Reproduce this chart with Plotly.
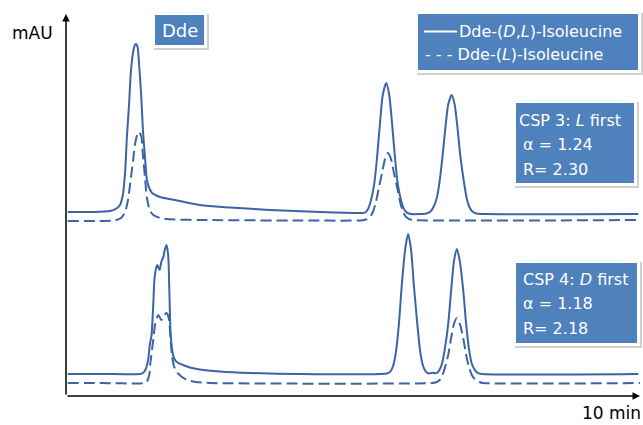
import plotly.graph_objects as go

# ---------------- data (time in min, absorbance in mAU) -------------
csp3_dl_t = [0.03, 0.42, 0.77, 0.89, 0.94, 0.99, 1.03, 1.06, 1.10, 1.13,
             1.17, 1.20, 1.22, 1.25, 1.27, 1.31, 1.34, 1.38, 1.41, 1.45,
             1.50, 1.64, 1.90, 2.33, 2.86, 3.55, 4.43, 5.12,
             5.21, 5.26, 5.31, 5.37, 5.42, 5.47, 5.52, 5.58, 5.63, 5.68,
             5.73, 5.78, 5.84, 5.89, 5.94, 6.01,
             6.28, 6.35, 6.40, 6.46, 6.51, 6.56, 6.61, 6.66, 6.72, 6.77,
             6.82, 6.87, 6.93, 6.98, 7.03, 7.08, 7.15, 7.30, 9.97]
csp3_dl_a = [184, 184, 185, 188, 191, 201, 224, 258, 293, 324,
             344, 351, 352, 348, 334, 301, 266, 236, 216, 208,
             203, 199, 196, 191, 188.5, 186, 184, 183,
             183.4, 186.8, 195.1, 212.1, 239.3, 272.8, 301.5, 313, 301.5, 272.8,
             239.3, 212.1, 195.1, 186.8, 183.4, 182,
             182.5, 184.4, 188.7, 198.1, 215.1, 239.9, 268.4, 291.8, 301, 291.8,
             268.4, 239.9, 215.1, 198.1, 188.7, 184.4, 182.5, 182, 182]

csp3_l_t = [0.03, 0.59, 0.85, 0.96, 1.03, 1.08, 1.13, 1.17, 1.20, 1.24,
            1.27, 1.31, 1.34, 1.38, 1.41, 1.46, 1.52, 1.64, 1.90, 2.33,
            4.08, 5.17,
            5.24, 5.30, 5.35, 5.40, 5.45, 5.51, 5.56, 5.61, 5.66, 5.71,
            5.77, 5.82, 5.87, 5.92, 5.98, 6.05, 10.0]
csp3_l_a = [175, 175, 175.5, 178, 184, 196, 218, 236, 251, 261,
            264, 260, 241, 216, 198, 186, 181, 178, 176.5, 176,
            175.5, 175.8,
            176.8, 179.3, 184.5, 194.1, 208.1, 224.1, 237.3, 243, 237.3, 224.1,
            208.1, 194.1, 184.5, 179.3, 176.8, 176, 176]

csp4_dl_t = [0.03, 0.59, 1.29, 1.34, 1.39, 1.43, 1.46, 1.49, 1.52, 1.54,
             1.57, 1.59, 1.63, 1.66, 1.70, 1.72, 1.75, 1.78, 1.80, 1.82,
             1.85, 1.88, 1.93, 2.04, 2.16, 2.33, 2.68, 3.21, 4.08, 5.47,
             5.59, 5.65, 5.70, 5.75, 5.80, 5.85, 5.91, 5.96, 6.01, 6.06,
             6.12, 6.17, 6.22, 6.27, 6.32, 6.38,
             6.45, 6.50, 6.55, 6.60, 6.66, 6.71, 6.76, 6.81, 6.86, 6.92,
             6.97, 7.02, 7.07, 7.13, 7.18, 7.25, 9.97]
csp4_dl_a = [22, 22, 22, 23, 27, 36, 51, 61, 91, 116,
             128, 131, 126, 134, 140, 146, 151, 141, 106, 66,
             46, 38, 34, 31, 28.5, 26.5, 24.5, 23, 22, 22,
             22.5, 24.4, 30.3, 44.8, 72.4, 111, 147, 162, 147, 111,
             72.4, 44.8, 30.3, 24.4, 22.5, 23.3,
             22.9, 25.4, 32.2, 47.1, 72.7, 105.8, 135.1, 147, 135.1, 105.8,
             72.7, 47.1, 32.2, 25.4, 22.9, 22, 22]

csp4_l_t = [0.03, 0.59, 1.38, 1.41, 1.45, 1.47, 1.52, 1.55, 1.58, 1.61,
            1.66, 1.70, 1.75, 1.79, 1.82, 1.85, 1.88, 1.93, 2.02, 2.11,
            2.25, 2.51, 6.38,
            6.45, 6.50, 6.55, 6.60, 6.66, 6.71, 6.76, 6.81, 6.86, 6.92,
            6.97, 7.02, 7.07, 7.13, 7.20, 7.27, 10.0]
csp4_l_a = [13, 13, 13, 14.3, 21, 33, 56, 71, 78, 81,
            76, 80, 83, 78, 58, 39, 30, 24, 19, 16,
            14, 13, 13,
            13.7, 15.4, 19.5, 28, 41.4, 58, 72.3, 78, 72.3, 58,
            41.4, 29, 21, 16.5, 14, 13, 13]

legend_labels = ["Dde-(<i>D</i>,<i>L</i>)-Isoleucine", "- - - Dde-(<i>L</i>)-Isoleucine"]
csp3_lines = ["CSP 3: <i>L</i> first", "α = 1.24", "R= 2.30"]
csp4_lines = ["CSP 4: <i>D</i> first", "α = 1.18", "R= 2.18"]

# ---------------- style / layout helpers ----------------
W, H = 643, 425
ML, MR, MT, MB = 66, 3, 14, 29
PW, PH = W - ML - MR, H - MT - MB
LINE = "#3b65a4"
BOX = "#4F81BD"
FONT = "DejaVu Sans"


def X(p):
    return (p - ML) / PW


def Y(p):
    return (MT + PH - p) / PH


fig = go.Figure()
for t, a, dash in [(csp3_dl_t, csp3_dl_a, "solid"), (csp3_l_t, csp3_l_a, "11px,5px"),
                   (csp4_dl_t, csp4_dl_a, "solid"), (csp4_l_t, csp4_l_a, "11px,5px")]:
    fig.add_trace(go.Scatter(x=t, y=a, mode="lines",
                             line=dict(color=LINE, width=2, dash=dash, shape="spline", smoothing=0.7),
                             hoverinfo="skip"))

shapes = []


def add_box(x0, y0, x1, y1):
    shapes.append(dict(type="rect", xref="paper", yref="paper", layer="above",
                       x0=X(x0 - 1), x1=X(x1 + 5), y0=Y(y0 - 1), y1=Y(y1 + 5),
                       fillcolor="rgba(0,0,0,0.18)", line=dict(width=0)))
    shapes.append(dict(type="rect", xref="paper", yref="paper", layer="above",
                       x0=X(x0 - 3), x1=X(x1 + 3), y0=Y(y0 - 3), y1=Y(y1 + 3),
                       fillcolor="white", line=dict(width=0)))
    shapes.append(dict(type="rect", xref="paper", yref="paper", layer="above",
                       x0=X(x0), x1=X(x1), y0=Y(y0), y1=Y(y1),
                       fillcolor=BOX, line=dict(width=0)))


add_box(155, 15, 204, 45)
add_box(418, 14, 638, 70)
add_box(516, 103, 634, 183)
add_box(516, 263, 637, 343)
shapes.append(dict(type="line", xref="paper", yref="paper", layer="above",
                   x0=X(424), x1=X(457), y0=Y(31.5), y1=Y(31.5),
                   line=dict(color="white", width=2)))

ann = []


def txt(s, x, y, size=16, color="white", anchor="left"):
    ann.append(dict(text=s, x=X(x), y=Y(y), xref="paper", yref="paper", showarrow=False,
                    xanchor=anchor, yanchor="middle", borderpad=0, borderwidth=0,
                    font=dict(family=FONT, size=size, color=color)))


txt("Dde", 179.5, 30, size=18, anchor="center")
txt(legend_labels[0], 459, 31.5)
txt(legend_labels[1], 425, 55)
for s, x, y in zip(csp3_lines, [519, 523, 523], [120, 145, 169]):
    txt(s, x, y)
for s, x, y in zip(csp4_lines, [523, 523, 523], [279, 303, 328]):
    txt(s, x, y)
txt("mAU", 32, 33, size=17, color="black", anchor="center")
txt("10 min", 641, 413, size=17, color="black", anchor="right")

# axis arrows
ann.append(dict(x=0, y=1, xref="paper", yref="paper", ax=0, ay=PH, axref="pixel", ayref="pixel",
                text="", showarrow=True, arrowhead=2, arrowsize=1, arrowwidth=1.5, arrowcolor="black"))
ann.append(dict(x=1, y=0, xref="paper", yref="paper", ax=-PW, ay=0, axref="pixel", ayref="pixel",
                text="", showarrow=True, arrowhead=2, arrowsize=1, arrowwidth=1.5, arrowcolor="black"))

fig.update_layout(
    width=W, height=H, margin=dict(l=ML, r=MR, t=MT, b=MB),
    paper_bgcolor="white", plot_bgcolor="white", showlegend=False, hovermode=False,
    xaxis=dict(range=[0, 10], visible=False, fixedrange=True),
    yaxis=dict(range=[0, PH], visible=False, fixedrange=True),
    shapes=shapes, annotations=ann,
)

fig.write_html("out.html", config={"displayModeBar": False})

# remove the default page margin so the figure sits at the window's top-left corner
with open("out.html", encoding="utf-8") as f:
    html = f.read()
html = html.replace("<head>", "<head><style>html,body{margin:0;padding:0;overflow:hidden;}</style>", 1)
with open("out.html", "w", encoding="utf-8") as f:
    f.write(html)
